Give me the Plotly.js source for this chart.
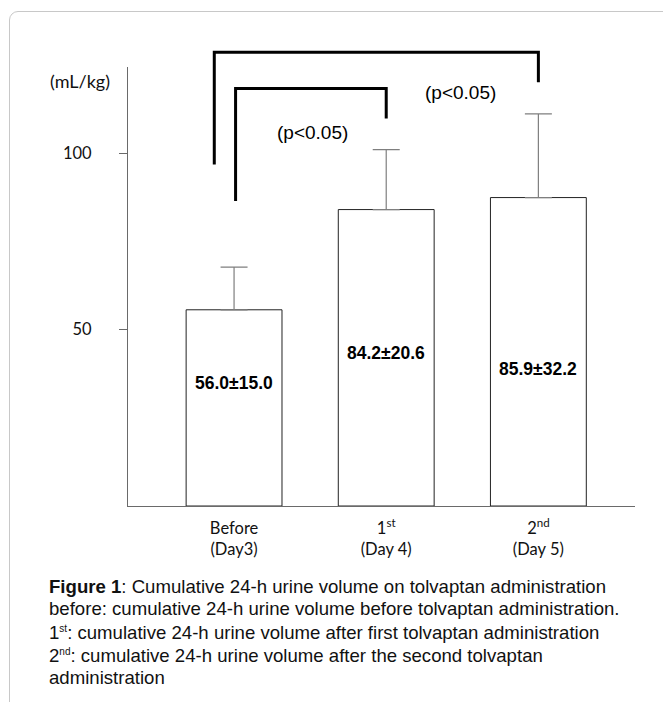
<!DOCTYPE html>
<html>
<head>
<meta charset="utf-8">
<script src="https://cdn.plot.ly/plotly-3.0.1.min.js"></script>
<style>
  html, body { margin: 0; padding: 0; width: 663px; height: 702px; overflow: hidden; background: #fff; }
  #frame { position: absolute; left: 9px; top: 11px; width: 720px; height: 800px;
           border: 1px solid #c8c8c8; border-radius: 9px; box-sizing: border-box; }
  #chart { position: absolute; left: 0; top: 0; width: 663px; height: 702px; }
  .cap { position: absolute; left: 49px; font-family: "Liberation Sans", Arial, sans-serif;
         font-size: 18.6px; color: #111; white-space: nowrap; line-height: 22px; }
  .cap sup { font-size: 10px; vertical-align: 7px; line-height: 0; }
</style>
</head>
<body>
<div id="frame"></div>
<div id="chart"></div>
<div class="cap" style="top:576px"><b>Figure 1</b>: Cumulative 24-h urine volume on tolvaptan administration</div>
<div class="cap" style="top:598px">before: cumulative 24-h urine volume before tolvaptan administration.</div>
<div class="cap" style="top:622px">1<sup>st</sup>: cumulative 24-h urine volume after first tolvaptan administration</div>
<div class="cap" style="top:645px">2<sup>nd</sup>: cumulative 24-h urine volume after the second tolvaptan</div>
<div class="cap" style="top:667px">administration</div>
<script>
// ---- data ----
const categories = ["Before<br>(Day3)", "1<sup>st</sup><br>(Day 4)", "2<sup>nd</sup><br>(Day 5)"];
const barValues = [55.6, 84.0, 87.4];          // drawn bar heights (mL/kg)
const errorPlus = [12.1, 17.0, 23.7];          // drawn upper error bars
const barLabels = ["56.0±15.0", "84.2±20.6", "85.9±32.2"];
const labelLevels = [34.9, 43.4, 38.9];        // where the labels sit (mL/kg)
const yTickVals = [50, 100];
const yMax = 124.4;
// significance brackets: [leftX, leftBottom, top, rightX, rightBottom] in data units
const bracketOuter = [-0.13, 96.8, 128.6, 2.0, 120.1];
const bracketInner = [0.01, 86.4, 118.3, 1.0, 109.8];
const pLabels = [{x: 0.515, y: 109.3, text: "(p<0.05)"}, {x: 1.487, y: 120.6, text: "(p<0.05)"}];

const toPaper = v => v / yMax;

function bracketShape(b) {
  const [x0, y0, yt, x1, y1] = b;
  return {
    type: "path", xref: "x", yref: "paper",
    path: `M ${x0},${toPaper(y0)} L ${x0},${toPaper(yt)} L ${x1},${toPaper(yt)} L ${x1},${toPaper(y1)}`,
    line: {color: "#000", width: 3}
  };
}

const trace = {
  type: "bar",
  x: [0, 1, 2],
  y: barValues,
  width: 0.63,
  marker: {color: "#ffffff", line: {color: "#222", width: 1}},
  error_y: {type: "data", symmetric: false, array: errorPlus, arrayminus: [0, 0, 0],
            color: "#7f7f7f", thickness: 1.2, width: 13.5},
  hoverinfo: "skip"
};

const annotations = barLabels.map((t, i) => ({
  x: i, y: labelLevels[i], xref: "x", yref: "y", text: "<b>" + t + "</b>", showarrow: false,
  font: {family: "Liberation Sans, Arial, sans-serif", size: 17.5, color: "#000"}
}));
pLabels.forEach(p => annotations.push({
  x: p.x, y: toPaper(p.y), xref: "x", yref: "paper", text: p.text, showarrow: false,
  font: {family: "Liberation Sans, Arial, sans-serif", size: 19, color: "#000"}
}));
annotations.push({
  x: (80 - 128) / (663 - 128 - 28), y: 1 - (68 - 67) / (702 - 67 - 196),
  xref: "paper", yref: "paper", xanchor: "center", text: "(mL/kg)", showarrow: false,
  font: {family: "Lato, sans-serif", size: 18, color: "#111"}
});

const layout = {
  width: 663, height: 702,
  margin: {l: 128, r: 28, t: 67, b: 196, pad: 0},
  paper_bgcolor: "rgba(0,0,0,0)", plot_bgcolor: "rgba(0,0,0,0)",
  showlegend: false,
  xaxis: {
    range: [-0.697, 2.635], tickmode: "array", tickvals: [0, 1, 2], ticktext: categories,
    showline: true, linecolor: "#6a6a6a", linewidth: 1, ticks: "", showgrid: false, zeroline: false,
    tickfont: {family: "Lato, sans-serif", size: 16.5, color: "#111"}, ticklabelstandoff: 7,
    fixedrange: true
  },
  yaxis: {
    range: [0, yMax], tickmode: "array", tickvals: yTickVals, ticktext: yTickVals.map(String),
    showline: true, linecolor: "#6a6a6a", linewidth: 1, ticks: "outside", ticklen: 8,
    tickcolor: "#6a6a6a", showgrid: false, zeroline: false,
    tickfont: {family: "Lato, sans-serif", size: 16.5, color: "#111"}, ticklabelstandoff: 24,
    fixedrange: true
  },
  shapes: [bracketShape(bracketOuter), bracketShape(bracketInner)],
  annotations: annotations
};

Plotly.newPlot("chart", [trace], layout, {staticPlot: true, displayModeBar: false});
</script>
</body>
</html>
